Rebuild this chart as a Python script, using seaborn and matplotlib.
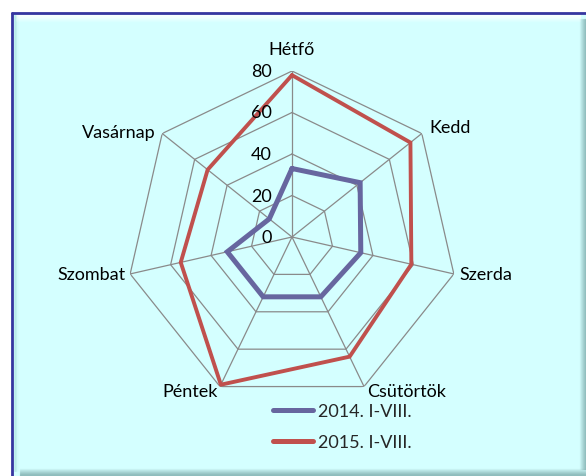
import numpy as np
import pandas as pd
import matplotlib
matplotlib.use("Agg")
import matplotlib.pyplot as plt
from matplotlib.patches import Rectangle
from matplotlib.lines import Line2D
import seaborn as sns

categories = ["Hétfő", "Kedd", "Szerda", "Csütörtök", "Péntek", "Szombat", "Vasárnap"]
series_names = ["2014. I-VIII.", "2015. I-VIII."]
values_2014 = [33, 42, 34, 32, 32, 32, 14]
values_2015 = [78, 73, 59, 64, 79, 55, 52]
radial_ticks = [0, 20, 40, 60, 80]

sns.set_theme(style="white")
plt.rcParams["font.family"] = ["Lato", "DejaVu Sans"]

W, H = 586, 477
fig = plt.figure(figsize=(W / 100, H / 100), dpi=100)
fig.patch.set_facecolor("white")

bg = "#D4FFFF"
def fx(px): return px / W
def fy(py): return 1 - py / H
fig.add_artist(Rectangle((fx(12), fy(477)), fx(590) - fx(12), fy(14) - fy(477),
                         transform=fig.transFigure, facecolor=bg, edgecolor="none", zorder=0))
for i in range(7):
    a = (1 - i / 7) * 0.45
    fig.add_artist(Line2D([fx(586 - i), fx(586 - i)], [fy(470), fy(20)], transform=fig.transFigure,
                          color="#4A7A7A", alpha=a, lw=1.0, zorder=1))
    fig.add_artist(Line2D([fx(20), fx(586)], [fy(476 - i), fy(476 - i)], transform=fig.transFigure,
                          color="#4A7A7A", alpha=a, lw=1.0, zorder=1))
    fig.add_artist(Line2D([fx(16), fx(580)], [fy(16 + i), fy(16 + i)], transform=fig.transFigure,
                          color="white", alpha=min(1.0, a * 1.8), lw=1.0, zorder=1))
    fig.add_artist(Line2D([fx(14 + i * 0.6), fx(14 + i * 0.6)], [fy(472), fy(16)], transform=fig.transFigure,
                          color="#8CC8C8", alpha=a * 0.6, lw=0.7, zorder=1))
fig.add_artist(Line2D([fx(12), fx(12)], [fy(477), fy(14)], transform=fig.transFigure,
                      color="#3636A0", lw=2.0, zorder=2))
fig.add_artist(Line2D([fx(12), fx(590)], [fy(14), fy(14)], transform=fig.transFigure,
                      color="#3636A0", lw=2.0, zorder=2))

cx, cy, R = 292, 238, 166
ax = fig.add_axes([fx(cx - R), fy(cy + R), 2 * R / W, 2 * R / H], projection="polar")
ax.set_facecolor("none")
ax.set_theta_zero_location("N")
ax.set_theta_direction(-1)

n = len(categories)
angles = np.linspace(0, 2 * np.pi, n, endpoint=False)
closed_angles = np.append(angles, 2 * np.pi)

frames = []
for name, vals in zip(series_names, [values_2014, values_2015]):
    frames.append(pd.DataFrame({"theta": closed_angles,
                                "value": list(vals) + [vals[0]],
                                "series": name}))
df = pd.concat(frames, ignore_index=True)

colors = {"2014. I-VIII.": "#67669F", "2015. I-VIII.": "#C0504D"}
widths = {"2014. I-VIII.": 3.6, "2015. I-VIII.": 2.8}
for name in series_names:
    sub = df[df["series"] == name]
    sns.lineplot(data=sub, x="theta", y="value", sort=False, ax=ax, color=colors[name],
                 lw=widths[name], legend=False, zorder=5, solid_joinstyle="miter")

ax.set_ylim(0, 80)
ax.set_xticks(angles)
ax.set_xticklabels([])
ax.set_yticks(radial_ticks)
ax.set_yticklabels([])
ax.yaxis.grid(False)
ax.xaxis.grid(True, color="#8A8A8A", lw=0.9)
ax.spines["polar"].set_visible(False)
ax.set_xlabel("")
ax.set_ylabel("")
ax.tick_params(length=0, pad=0)

for t in radial_ticks[1:]:
    ax.plot(np.append(angles, angles[0]), [t] * (n + 1), color="#8A8A8A", lw=0.9, zorder=2)

fs = 13
for t in radial_ticks:
    ax.annotate(str(t), xy=(0, t), xytext=(-20, 0), textcoords="offset pixels",
                ha="right", va="center", fontsize=fs, color="black", zorder=6)

offsets = [(0, 14), (8, 7), (6, 0), (3, -4), (-2, -4), (-5, 0), (-7, 2)]
for ang, lab, off in zip(angles, categories, offsets):
    s = np.sin(ang)
    ha = "center" if abs(s) < 0.1 else ("left" if s > 0 else "right")
    va = "bottom" if abs(s) < 0.1 else "center"
    ax.annotate(lab, xy=(ang, 80), xytext=off, textcoords="offset pixels",
                ha=ha, va=va, fontsize=fs, color="black", annotation_clip=False)

handles = [Line2D([], [], color=colors[s], lw=3.6) for s in series_names]
fig.legend(handles, series_names, loc="upper left", bbox_to_anchor=(fx(273), fy(404)),
           frameon=False, fontsize=fs, handlelength=2.2, handletextpad=0.3,
           labelspacing=0.85, borderaxespad=0, borderpad=0)

fig.savefig("out.png", dpi=100, facecolor="white")
